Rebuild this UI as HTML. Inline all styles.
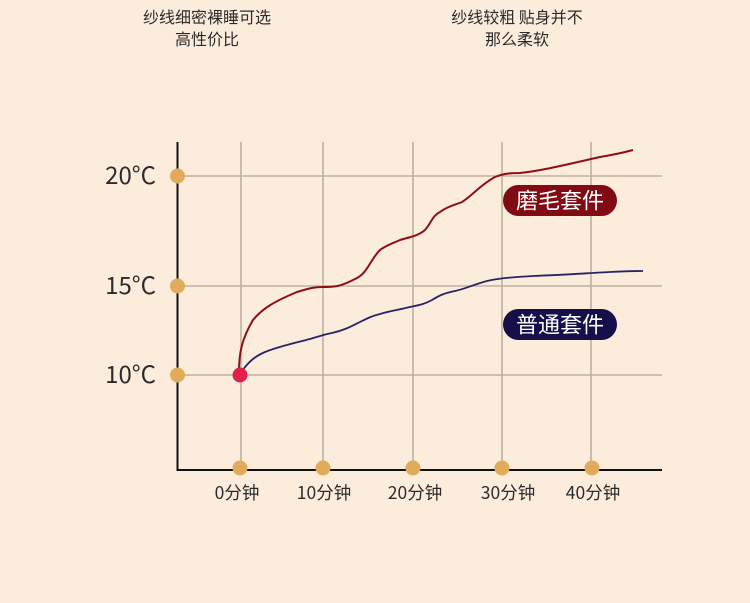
<!DOCTYPE html>
<html><head><meta charset="utf-8"><style>
html,body{margin:0;padding:0;background:#fcecdc;}
svg{display:block;}
text{font-family:"Noto Sans CJK SC","Liberation Sans",sans-serif;}
</style></head><body>
<svg width="750" height="603" viewBox="0 0 750 603" xmlns="http://www.w3.org/2000/svg">
<rect width="750" height="603" fill="#fcecdc"/>
<g font-size="16" fill="#2b2b2b" text-anchor="middle">
<text x="207" y="23">纱线细密裸睡可选</text>
<text x="207" y="45">高性价比</text>
<text x="517" y="23">纱线较粗 贴身并不</text>
<text x="517" y="45">那么柔软</text>
</g>
<g stroke="#b8ab9b" stroke-width="1.6" opacity="0.9">
<line x1="241" y1="142" x2="241" y2="470"/>
<line x1="323" y1="142" x2="323" y2="470"/>
<line x1="413" y1="142" x2="413" y2="470"/>
<line x1="502" y1="142" x2="502" y2="470"/>
<line x1="591" y1="142" x2="591" y2="470"/>
<line x1="178" y1="176" x2="662" y2="176"/>
<line x1="178" y1="286" x2="662" y2="286"/>
<line x1="178" y1="375" x2="662" y2="375"/>
</g>
<line x1="177.5" y1="142" x2="177.5" y2="471" stroke="#111" stroke-width="2"/>
<line x1="177" y1="470" x2="662" y2="470" stroke="#111" stroke-width="2"/>
<g fill="#e0ac5c">
<circle cx="177.5" cy="176" r="7.5"/>
<circle cx="177.5" cy="286" r="7.5"/>
<circle cx="177.5" cy="375" r="7.5"/>
<circle cx="240" cy="468" r="7.5"/>
<circle cx="323" cy="468" r="7.5"/>
<circle cx="413" cy="468" r="7.5"/>
<circle cx="502" cy="468" r="7.5"/>
<circle cx="592" cy="468" r="7.5"/>
</g>
<g font-size="24" fill="#2b2b2b" text-anchor="end">
<text x="156" y="184">20°C</text>
<text x="156" y="294">15°C</text>
<text x="156" y="383">10°C</text>
</g>
<g font-size="17.5" fill="#2b2b2b" text-anchor="middle">
<text x="237" y="499">0分钟</text>
<text x="324" y="499">10分钟</text>
<text x="415" y="499">20分钟</text>
<text x="508" y="499">30分钟</text>
<text x="593" y="499">40分钟</text>
</g>
<path d="M239,372 C239,355 241,340 253,320 C262,309 273,302 297,292 C310,288 315,287 322,287 C335,287 340,287 357,278 C368,272 370,260 380,250 C388,244 394,243 400,240 C410,237 418,236 425,230 C432,222 432,216 440,212 C448,206 455,205 462,202 C472,196 480,185 495,177 C502,174 508,173 520,173 C540,171 560,166 600,157 C612,155 622,153 633,150" fill="none" stroke="#8e0e16" stroke-width="2"/>
<path d="M242,371 C250,360 256,356 265,352 C280,346 295,343 310,339 C320,336 326,334 332,333 C345,330 352,326 360,322 C368,318 372,316 380,314 C390,311 398,310 410,307 C420,305 425,304 432,300 C440,295 445,293 455,291 C465,289 472,285 487,281 C500,278 515,277 533,276 C560,275 590,273 610,272 C625,271 635,271 643,271" fill="none" stroke="#2a2466" stroke-width="1.8"/>
<circle cx="240" cy="375" r="7.5" fill="#e3204a"/>
<rect x="503" y="185" width="114" height="31" rx="15.5" fill="#800b13"/>
<text x="560" y="208.5" font-size="22" fill="#fff" text-anchor="middle">磨毛套件</text>
<rect x="503" y="309" width="114" height="31" rx="15.5" fill="#15104a"/>
<text x="560" y="332.5" font-size="22" fill="#fff" text-anchor="middle">普通套件</text>
</svg>
</body></html>
